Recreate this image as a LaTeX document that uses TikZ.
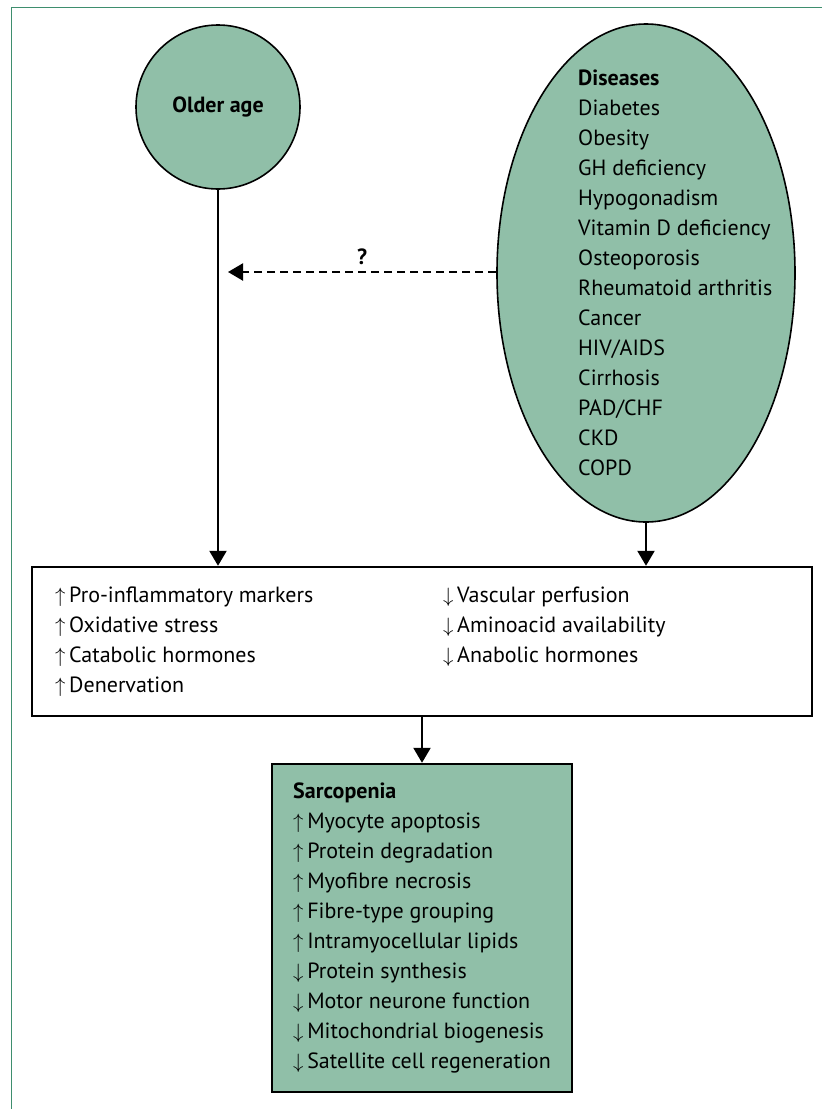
\documentclass[tikz,border=0pt]{standalone}
\usepackage{fontspec}
\setmainfont{PT Sans}
\usepackage{xcolor}
\usetikzlibrary{arrows.meta, shapes.geometric, positioning}

\definecolor{sarcgreen}{HTML}{90BFA8}
\definecolor{framegreen}{HTML}{3E8E6E}

\newcommand{\incr}{$\uparrow$\,}
\newcommand{\decr}{$\downarrow$\,}

\tikzset{
  cause/.style={draw=black, line width=1.6pt, fill=sarcgreen},
  flow/.style={line width=2.2pt, -{Triangle[width=17pt,length=15pt]}},
  listtext/.style={align=left, inner sep=0pt, font=\fontsize{22}{30}\selectfont},
}

\begin{document}
\begin{tikzpicture}[x=1pt, y=-1pt]
    \useasboundingbox (0,0) rectangle (822,1109);
    \draw[framegreen, line width=1pt] (11,1109) -- (11,7) -- (822,7);

    % causes
    \node[cause, circle, minimum size=164pt, font=\bfseries\fontsize{22}{26}\selectfont] (older) at (218,107) {Older age};
    \node[cause, ellipse, minimum width=298pt, minimum height=498pt] (diseases) at (646,273) {};
    \node[listtext, anchor=north west] (dislist) at (578,70)
        {\textbf{Diseases}\\Diabetes\\Obesity\\GH deficiency\\Hypogonadism\\Vitamin D deficiency\\Osteoporosis\\Rheumatoid arthritis\\Cancer\\HIV/AIDS\\Cirrhosis\\PAD/CHF\\CKD\\COPD};

    % mechanisms
    \node[draw, line width=2.4pt, minimum width=780pt, minimum height=149pt] (factors) at (422,641.5) {};
    \node[listtext, anchor=north west] (uplist) at (55,587)
        {\incr Pro-inflammatory markers\\\incr Oxidative stress\\\incr Catabolic hormones\\\incr Denervation};
    \node[listtext, anchor=north west] (downlist) at (443,587)
        {\decr Vascular perfusion\\\decr Aminoacid availability\\\decr Anabolic hormones};

    % outcome
    \node[cause, line width=2.4pt, listtext, minimum width=300pt, minimum height=328pt] (sarcopenia) at (422,928)
        {\textbf{Sarcopenia}\\\incr Myocyte apoptosis\\\incr Protein degradation\\\incr Myofibre necrosis\\\incr Fibre-type grouping\\\incr Intramyocellular lipids\\\decr Protein synthesis\\\decr Motor neurone function\\\decr Mitochondrial biogenesis\\\decr Satellite cell regeneration};

    \coordinate (agelink) at (228,272);

    \draw[flow] (older) -- (older |- factors.north);
    \draw[flow] (diseases) -- (diseases |- factors.north);
    \draw[flow] (factors) -- (sarcopenia);
    \draw[flow, dash pattern=on 8pt off 5pt] (diseases.west |- agelink) -- node[above=3pt, font=\bfseries\fontsize{22}{26}\selectfont] {?} (agelink);
\end{tikzpicture}
\end{document}
